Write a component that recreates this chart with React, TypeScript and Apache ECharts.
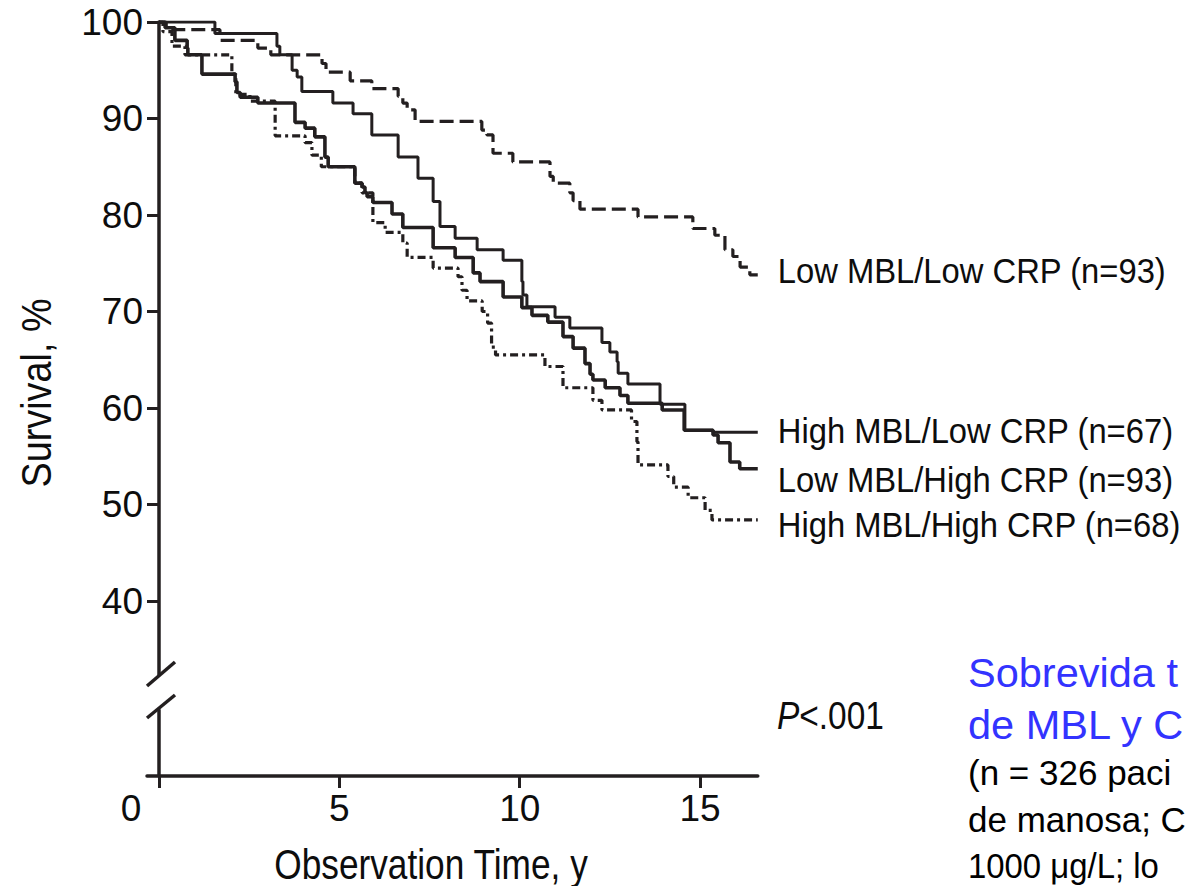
import React, { useEffect, useRef } from "react";
import * as echarts from "echarts";

// ---- data (years, survival %) ----
const xTicks = [0, 5, 10, 15];
const yTicks = [40, 50, 60, 70, 80, 90, 100];

const lowMblLowCrp = [
  [0, 100], [0.2, 99.2], [1.69, 98.1], [2.74, 97.3], [3.1, 96.6], [4.52, 95.7], [4.63, 94.8],
  [5.3, 93.9], [5.9, 93.1], [6.63, 92.3], [6.76, 91.6], [6.88, 90.9], [7.1, 89.7], [8.95, 88.8],
  [9.09, 88.3], [9.26, 86.4], [9.81, 85.5], [10.84, 84.0], [10.93, 83.3], [11.39, 82.3],
  [11.48, 81.5], [11.67, 80.6], [13.28, 79.8], [14.8, 78.6], [15.41, 77.9], [15.69, 76.4],
  [15.91, 75.7], [16.11, 74.6], [16.38, 73.8], [16.6, 73.8],
];

const highMblLowCrp = [
  [0, 100], [1.55, 98.8], [3.27, 97.5], [3.35, 96.6], [3.69, 95.0], [3.83, 94.3], [3.96, 92.8],
  [4.82, 91.6], [5.38, 90.5], [5.9, 88.3], [6.63, 86.0], [7.18, 83.8], [7.6, 81.4], [7.79, 78.8],
  [8.21, 77.6], [8.82, 76.4], [9.54, 75.3], [10.06, 73.1], [10.09, 71.7], [10.2, 70.5],
  [10.98, 69.4], [11.39, 68.3], [12.28, 66.8], [12.5, 65.8], [12.7, 64.8], [12.73, 63.6],
  [13.0, 62.5], [13.89, 60.4], [14.58, 57.7], [15.36, 57.5], [16.6, 57.5],
];

const lowMblHighCrp = [
  [0, 100], [0.17, 99.4], [0.44, 98.1], [0.78, 97.3], [0.8, 96.6], [1.19, 94.6], [2.11, 93.8],
  [2.16, 92.7], [2.25, 92.2], [2.74, 91.6], [3.77, 89.6], [4.05, 89.0], [4.32, 88.1], [4.6, 86.0],
  [4.69, 85.0], [5.43, 83.3], [5.63, 82.9], [5.71, 82.3], [5.77, 81.9], [5.93, 81.3], [6.46, 80.1],
  [6.76, 78.7], [7.6, 76.6], [8.21, 75.6], [8.71, 74.0], [8.9, 73.1], [9.54, 71.5], [10.06, 70.4],
  [10.34, 69.6], [10.78, 68.9], [11.2, 67.4], [11.48, 66.2], [11.81, 64.6], [11.95, 63.5],
  [12.03, 62.9], [12.37, 62.1], [12.78, 61.3], [13.0, 60.5], [13.95, 59.8], [14.56, 57.7],
  [15.36, 57.2], [15.5, 56.4], [15.83, 54.4], [16.1, 53.7], [16.6, 53.7],
];

const highMblHighCrp = [
  [0, 100], [0.11, 99.0], [0.36, 97.5], [0.72, 96.6], [2.02, 94.6], [2.13, 92.5], [2.52, 91.8],
  [3.22, 88.2], [4.05, 87.5], [4.24, 86.2], [4.5, 85.0], [5.43, 83.3], [5.63, 82.3], [5.93, 79.2],
  [6.27, 78.2], [6.76, 77.1], [6.88, 75.6], [7.6, 74.5], [8.29, 73.6], [8.4, 72.2], [8.54, 71.1],
  [8.96, 70.0], [9.11, 68.8], [9.22, 66.3], [9.33, 65.5], [10.7, 64.3], [11.2, 62.1],
  [12.03, 60.8], [12.28, 59.8], [13.1, 58.6], [13.25, 56.5], [13.28, 54.1], [14.11, 52.9],
  [14.27, 51.8], [14.67, 50.7], [15.14, 49.4], [15.33, 48.4], [16.6, 48.4],
];

const seriesNames = [
  "Low MBL/Low CRP (n=93)",
  "High MBL/Low CRP (n=67)",
  "Low MBL/High CRP (n=93)",
  "High MBL/High CRP (n=68)",
];

const FONT = "'Liberation Sans', Arial, sans-serif";
const INK = "#231f20";
const TXT = "#0d0d0d";

export default function App() {
  const ref = useRef<HTMLDivElement>(null);

  useEffect(() => {
    if (!ref.current) return;
    const chart = echarts.init(ref.current, null, { renderer: "svg" });

    const pxX = 36.07;
    const pxY = 9.65;
    const xMax = 16.6;
    const yMin0 = 32.4;

    const allData = [lowMblLowCrp, highMblLowCrp, lowMblHighCrp, highMblHighCrp];
    const widths = [3.2, 3, 3.6, 3.2];
    const dashes: any[] = [[14, 6], "solid", "solid", [8, 4, 3, 4]];
    const labelOffsets = [-4, -1.5, 10.5, 4.5];

    chart.setOption({
      animation: false,
      backgroundColor: "#fff",
      grid: [
        { left: 159, top: 22, width: xMax * pxX, height: (100 - yMin0) * pxY },
        { left: 147, top: 710, width: (xMax + 0.333) * pxX, height: 66 },
      ],
      xAxis: [
        { gridIndex: 0, type: "value", min: 0, max: xMax, show: false },
        {
          gridIndex: 1,
          type: "value",
          min: -0.333,
          max: xMax,
          axisLine: { show: true, onZero: true, lineStyle: { color: INK, width: 3.5 } },
          axisTick: { show: true, customValues: xTicks, length: 12, lineStyle: { color: INK, width: 3 } },
          axisLabel: {
            show: true,
            customValues: xTicks,
            margin: 14,
            color: TXT,
            fontSize: 37,
            fontFamily: FONT,
            formatter: (v: number) => (v === 0 ? "{o|0}" : String(v)),
            rich: { o: { fontSize: 37, fontFamily: FONT, color: TXT, padding: [0, 56, 0, 0] } },
          },
          splitLine: { show: false },
        },
      ],
      yAxis: [
        {
          gridIndex: 0,
          type: "value",
          min: yMin0,
          max: 100,
          axisLine: { show: true, onZero: false, lineStyle: { color: INK, width: 3.5 } },
          axisTick: { show: true, customValues: yTicks, length: 12, lineStyle: { color: INK, width: 3 } },
          axisLabel: {
            show: true,
            customValues: yTicks,
            margin: 16,
            color: TXT,
            fontSize: 37,
            fontFamily: FONT,
          },
          splitLine: { show: false },
        },
        {
          gridIndex: 1,
          type: "value",
          min: 0,
          max: 66 / pxY,
          axisLine: { show: true, onZero: true, lineStyle: { color: INK, width: 3.5 } },
          axisTick: { show: false },
          axisLabel: { show: false },
          splitLine: { show: false },
        },
      ],
      series: allData.map((d, i) => ({
        type: "line",
        name: seriesNames[i],
        xAxisIndex: 0,
        yAxisIndex: 0,
        data: d,
        step: "end",
        symbol: "none",
        silent: true,
        lineStyle: { color: INK, width: widths[i], type: dashes[i] },
      })),
    });

    // end-of-line labels, anchored on each series' last point
    const endLabels = allData.map((d, i) => {
      const last = d[d.length - 1];
      const p = chart.convertToPixel({ gridIndex: 0 }, last) as number[];
      return {
        type: "text",
        x: p[0] + 20,
        y: p[1] + labelOffsets[i],
        scaleX: 0.91,
        style: { text: seriesNames[i], fontSize: 36, fontFamily: FONT, fill: TXT, align: "left", verticalAlign: "middle" },
      };
    });

    chart.setOption({
      graphic: [
        { type: "line", shape: { x1: 147, y1: 686, x2: 175, y2: 662 }, style: { stroke: INK, lineWidth: 3.5 } },
        { type: "line", shape: { x1: 147, y1: 718, x2: 175, y2: 695 }, style: { stroke: INK, lineWidth: 3.5 } },
        ...endLabels,
        {
          type: "text",
          x: 36,
          y: 393,
          rotation: Math.PI / 2,
          scaleX: 0.9,
          style: { text: "Survival, %", fontSize: 42, fontFamily: FONT, fill: TXT, align: "center", verticalAlign: "middle" },
        },
        {
          type: "text",
          x: 431,
          y: 864,
          scaleX: 0.84,
          style: { text: "Observation Time, y", fontSize: 42, fontFamily: FONT, fill: TXT, align: "center", verticalAlign: "middle" },
        },
        {
          type: "text",
          x: 777,
          y: 716,
          scaleX: 0.88,
          style: {
            text: "{i|P}{n|<.001}",
            align: "left",
            verticalAlign: "middle",
            rich: {
              i: { fontStyle: "italic", fontSize: 38, fontFamily: FONT, fill: TXT },
              n: { fontSize: 38, fontFamily: FONT, fill: TXT },
            },
          },
        },
        { type: "text", x: 968, y: 672.5, style: { text: "Sobrevida t", fontSize: 41.5, fontFamily: FONT, fill: "#3333ff", align: "left", verticalAlign: "middle" } },
        { type: "text", x: 968, y: 724, style: { text: "de MBL y C", fontSize: 41.5, fontFamily: FONT, fill: "#3333ff", align: "left", verticalAlign: "middle" } },
        { type: "text", x: 968, y: 772.5, style: { text: "(n = 326 paci", fontSize: 35, fontFamily: FONT, fill: "#000", align: "left", verticalAlign: "middle" } },
        { type: "text", x: 968, y: 819.5, style: { text: "de manosa; C", fontSize: 35, fontFamily: FONT, fill: "#000", align: "left", verticalAlign: "middle" } },
        { type: "text", x: 968, y: 865.5, scaleX: 0.94, style: { text: "1000 μg/L; lo", fontSize: 35, fontFamily: FONT, fill: "#000", align: "left", verticalAlign: "middle" } },
      ],
    });

    return () => chart.dispose();
  }, []);

  return (
    <div
      ref={ref}
      style={{ position: "fixed", left: 0, top: 0, width: 1187, height: 886, background: "#fff", overflow: "hidden" }}
    />
  );
}
